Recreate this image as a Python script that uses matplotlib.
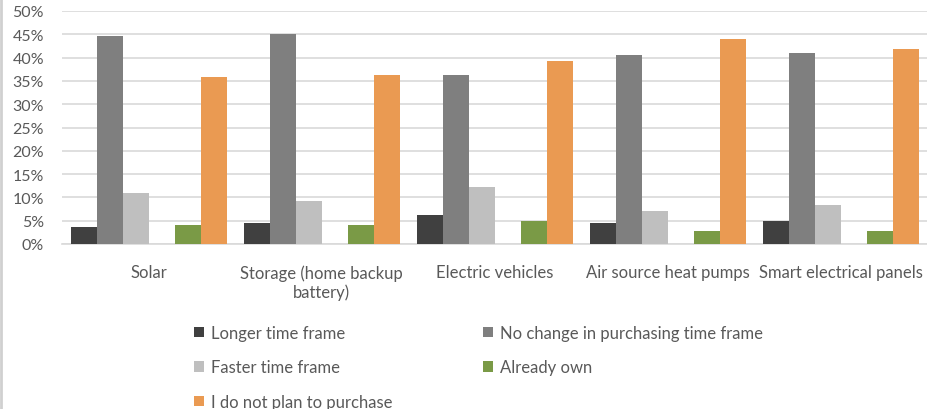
import matplotlib
matplotlib.use("Agg")
import matplotlib.pyplot as plt
import numpy as np
from matplotlib.lines import Line2D

plt.rcParams['font.family'] = ['Lato', 'DejaVu Sans']

categories = ["Solar", "Storage (home backup\nbattery)", "Electric vehicles",
              "Air source heat pumps", "Smart electrical panels"]
series_names = ["Longer time frame", "No change in purchasing time frame",
                "Faster time frame", "Already own", "I do not plan to purchase"]
longer = [3.6, 4.5, 6.2, 4.5, 4.9]
no_change = [44.6, 45.0, 36.2, 40.6, 41.0]
faster = [11.0, 9.2, 12.3, 7.1, 8.4]
already_own = [4.0, 4.0, 4.9, 2.7, 2.7]
not_plan = [35.8, 36.2, 39.3, 44.0, 41.9]
colors = ["#404040", "#7f7f7f", "#bfbfbf", "#7a9a46", "#ea9a52"]

# bar slots: the 4th slot is empty in the original chart
slots = [0, 1, 2, 4, 5]
values = [longer, no_change, faster, already_own, not_plan]

fig = plt.figure(figsize=(9.28, 4.1), dpi=100)
ax = fig.add_axes([62 / 928, 1 - 245 / 410, 1 - 62 / 928, 233 / 410])

x = np.arange(len(categories))
group_w = 0.9
bw = group_w / 6
for s, vals, name, c in zip(slots, values, series_names, colors):
    ax.bar(x - group_w / 2 + bw * (s + 0.5), vals, width=bw, color=c, label=name, zorder=3)

ax.set_xlim(-0.5, len(categories) - 0.5)
ax.set_ylim(0, 50)
ax.set_yticks(np.arange(0, 51, 5))
ax.set_yticklabels([f"{v}%" for v in range(0, 51, 5)])
ax.yaxis.grid(True, color="#d9d9d9", linewidth=1.2, zorder=0)
ax.set_xticks(x)
ax.set_xticklabels(categories)
for sp in ["left", "right", "top"]:
    ax.spines[sp].set_visible(False)
ax.spines["bottom"].set_color("#d9d9d9")
ax.spines["bottom"].set_linewidth(1.2)
ax.tick_params(axis="both", length=0, colors="#595959")
ax.tick_params(axis="x", pad=14.5, labelsize=12)
ax.tick_params(axis="y", pad=13, labelsize=11.5)

# legend filled row by row like the original
handles, labels = ax.get_legend_handles_labels()
order = [0, 2, 4, 1, 3]
leg = fig.legend([handles[i] for i in order], [labels[i] for i in order], ncol=2,
                 loc="upper left", bbox_to_anchor=(179 / 928, 1 - 311 / 410), frameon=False,
                 fontsize=12, handlelength=0.6, handleheight=0.6,
                 handletextpad=0.45, columnspacing=5.4, labelspacing=1.11)
for t in leg.get_texts():
    t.set_color("#595959")

fig.add_artist(Line2D([1.5 / 928, 1.5 / 928], [0, 1], color="#d0d0d0", linewidth=2,
                      transform=fig.transFigure))

fig.savefig("out.png", dpi=100)
